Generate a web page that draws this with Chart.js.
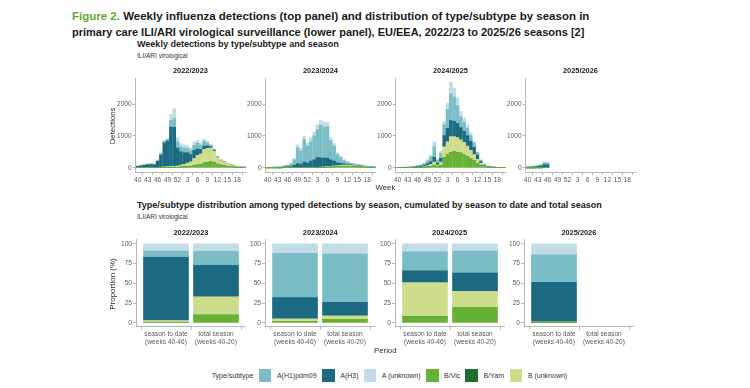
<!DOCTYPE html>
<html>
<head>
<meta charset="utf-8">
<script src="https://cdn.jsdelivr.net/npm/chart.js"></script>
<style>
html,body{margin:0;padding:0;}
body{width:750px;height:388px;position:relative;overflow:hidden;background:#fff;font-family:'Liberation Sans',Arial,sans-serif;}
.t{position:absolute;white-space:nowrap;}
canvas{position:absolute;}
.sw{position:absolute;}
</style>
</head>
<body>
<script>
// ================= DATA =================
const WEEKS = ['40','41','42','43','44','45','46','47','48','49','50','51','52','1','2','3','4','5','6','7','8','9','10','11','12','13','14','15','16','17','18','19','20'];
const WEEK_TICKS = [0,3,6,9,12,15,18,21,24,27,30];
const SEASONS = ['2022/2023','2023/2024','2024/2025','2025/2026'];
const PERIODS = [['season to date','(weeks 40-46)'],['total season','(weeks 40-20)']];
const DET_TICKS = [0,1000,2000];
const PCT_TICKS = [0,25,50,75,100];
const SERIES_NAMES = ['B/Vic','B/Yam','B (unknown)','A(H3)','A(H1)pdm09','A (unknown)']; // stack order, bottom to top
const LEGEND_ORDER = ['A(H1)pdm09','A(H3)','A (unknown)','B/Vic','B/Yam','B (unknown)'];

// weekly detections 2022/2023
const bvic_2223 = [2,2,3,3,3,3,5,8,10,12,15,15,20,25,30,40,50,70,90,110,150,170,190,170,120,90,70,50,40,25,15,10,8];
const byam_2223 = [0,0,0,0,0,0,0,0,0,0,0,0,0,0,0,0,0,0,0,0,0,0,0,0,0,0,0,0,0,0,0,0,0];
const bunk_2223 = [3,3,4,5,5,5,10,15,20,25,30,30,40,60,80,110,140,230,300,330,430,440,430,350,200,140,110,85,60,38,25,15,12];
const h3_2223   = [45,55,75,90,95,90,190,380,750,800,1235,1225,560,420,360,320,230,250,200,130,100,70,40,20,10,5,5,3,2,2,1,1,1];
const h1_2223   = [5,8,12,12,12,12,25,40,50,50,200,280,200,150,150,140,120,160,190,140,150,90,50,35,20,10,5,5,3,2,2,2,2];
const aunk_2223 = [10,12,16,20,20,15,20,37,40,43,200,300,130,105,100,90,80,90,90,70,70,60,30,25,20,15,10,7,5,3,2,2,2];

// weekly detections 2023/2024
const bvic_2324 = [1,1,1,1,1,2,2,3,3,5,5,5,5,8,10,10,12,15,20,25,30,35,40,45,45,45,40,35,30,25,20,15,12];
const byam_2324 = [0,0,0,0,0,0,0,0,0,0,0,0,0,0,0,0,0,0,0,0,0,0,0,0,0,0,0,0,0,0,0,0,0];
const bunk_2324 = [1,1,1,2,2,2,3,3,4,5,5,5,5,7,10,10,12,15,20,25,30,35,40,40,40,35,30,30,25,20,15,12,10];
const h3_2324   = [5,6,8,10,12,18,25,35,70,120,110,170,140,200,230,300,290,280,270,200,150,90,60,40,25,15,12,10,8,5,5,5,3];
const h1_2324   = [8,10,12,17,23,33,50,79,173,490,410,700,530,605,750,880,1030,970,980,600,470,260,180,105,70,50,38,28,20,15,10,8,6];
const aunk_2324 = [5,7,8,10,12,15,20,30,50,100,90,120,100,130,130,150,156,150,140,100,80,50,40,30,20,15,10,7,7,5,5,5,4];

// weekly detections 2024/2025
const bvic_2425 = [2,2,3,3,4,5,8,10,20,30,50,80,40,80,330,420,480,500,480,460,400,350,280,220,140,70,35,20,12,10,7,5,4];
const byam_2425 = [0,0,0,0,0,0,0,0,0,0,0,0,0,0,0,0,0,0,0,0,0,0,0,0,0,0,0,0,0,0,0,0,0];
const bunk_2425 = [2,2,3,3,4,5,7,10,20,40,60,100,50,100,330,400,500,480,470,420,400,330,270,200,130,70,30,15,10,8,5,4,2];
const h3_2425   = [5,5,6,8,10,15,20,25,40,60,80,150,60,120,350,420,500,480,450,380,350,330,280,220,130,60,25,12,8,5,3,2,2];
const h1_2425   = [8,8,10,12,16,20,30,40,50,90,150,330,90,150,340,600,850,760,550,340,280,230,180,130,80,35,17,8,6,4,3,2,1];
const aunk_2425 = [3,3,3,4,6,5,10,15,20,30,60,160,30,70,100,190,360,280,240,170,130,110,80,60,30,15,8,5,4,3,2,2,1];

// weekly detections 2025/2026 (weeks 40-46 reported so far)
const bvic_2526 = [1,1,1,1,1,2,2];
const byam_2526 = [0,0,0,0,0,0,0];
const bunk_2526 = [0,0,0,1,1,1,1];
const h3_2526   = [18,22,28,38,55,95,90];
const h1_2526   = [14,18,21,27,36,62,60];
const aunk_2526 = [7,9,10,13,17,30,27];

// share (%) of typed detections: [season to date, total season]
const share_2223_bvic = [0.5,10],  share_2223_byam = [0,0], share_2223_bunk = [2.5,23],  share_2223_h3 = [80,40], share_2223_h1 = [8,17.5], share_2223_aunk = [9,9.5];
const share_2324_bvic = [2,4.5],   share_2324_byam = [0,0], share_2324_bunk = [3,4.5],   share_2324_h3 = [27,17], share_2324_h1 = [56,61],  share_2324_aunk = [12,13];
const share_2425_bvic = [8,19.5],  share_2425_byam = [0,0], share_2425_bunk = [43,20.5], share_2425_h3 = [15,23], share_2425_h1 = [24,28],  share_2425_aunk = [10,9];
const share_2526_bvic = [0.3,null],share_2526_byam = [0,null], share_2526_bunk = [0.9,null], share_2526_h3 = [50,null], share_2526_h1 = [35,null], share_2526_aunk = [13.8,null];

// ================= STYLE =================
const FONT = "'Liberation Sans', Arial, sans-serif";
const COLORS = {'B/Vic':'#67b234','B/Yam':'#1e6e32','B (unknown)':'#cddd8c','A(H3)':'#1c6a82','A(H1)pdm09':'#7bbdc4','A (unknown)':'#c2dbe7'};
const AX = '#9a9a9a';
const TC = '#5a5a5a';

const WEEKLY = [
  [bvic_2223,byam_2223,bunk_2223,h3_2223,h1_2223,aunk_2223],
  [bvic_2324,byam_2324,bunk_2324,h3_2324,h1_2324,aunk_2324],
  [bvic_2425,byam_2425,bunk_2425,h3_2425,h1_2425,aunk_2425],
  [bvic_2526,byam_2526,bunk_2526,h3_2526,h1_2526,aunk_2526]
];
const SHARES = [
  [share_2223_bvic,share_2223_byam,share_2223_bunk,share_2223_h3,share_2223_h1,share_2223_aunk],
  [share_2324_bvic,share_2324_byam,share_2324_bunk,share_2324_h3,share_2324_h1,share_2324_aunk],
  [share_2425_bvic,share_2425_byam,share_2425_bunk,share_2425_h3,share_2425_h1,share_2425_aunk],
  [share_2526_bvic,share_2526_byam,share_2526_bunk,share_2526_h3,share_2526_h1,share_2526_aunk]
];

// ================= HELPERS =================
function txt(html, x, yc, size, o) {
  o = o || {};
  const d = document.createElement('div');
  d.className = 't';
  d.innerHTML = html;
  d.style.fontFamily = o.family || FONT;
  d.style.fontWeight = o.bold ? 'bold' : 'normal';
  d.style.color = o.color || '#1a1a1a';
  document.body.appendChild(d);
  function setSize(s){ d.style.fontSize = s+'px'; d.style.lineHeight = s+'px'; d.style.top = (yc - s/2)+'px'; }
  setSize(size);
  let w = d.getBoundingClientRect().width;
  if (o.fitW) { size = size * o.fitW / w; setSize(size); }
  w = d.offsetWidth;
  let left = x;
  if (o.align === 'center') left = x - w/2;
  if (o.align === 'right') left = x - w;
  d.style.left = left + 'px';
  if (o.rotate) { d.style.transformOrigin = 'center center'; d.style.transform = 'rotate(-90deg)'; }
  return d;
}

function axisStyle() {
  return {
    grid: {display:true, drawOnChartArea:false, drawTicks:true, tickLength:3, color:AX, lineWidth:0.7},
    border: {display:true, color:AX, width:0.7}
  };
}

function makeChart(cfg, L, T, W, H) {
  const c = document.createElement('canvas');
  c.width = W + 60; c.height = H + 40;
  c.style.width = c.width + 'px'; c.style.height = c.height + 'px';
  c.style.left = '0px'; c.style.top = '0px';
  document.body.appendChild(c);
  const ch = new Chart(c, cfg);
  let a = ch.chartArea;
  const nw = Math.round(c.width + W - (a.right - a.left));
  const nh = Math.round(c.height + H - (a.bottom - a.top));
  ch.resize(nw, nh);
  a = ch.chartArea;
  c.style.left = Math.round(L - a.left) + 'px';
  c.style.top = Math.round(T - a.top) + 'px';
  return ch;
}

const baseOpts = {
  responsive:false, maintainAspectRatio:false, animation:false, events:[],
  layout:{padding:0},
  plugins:{legend:{display:false}, tooltip:{enabled:false}, title:{display:false}}
};

// ================= TITLES =================
txt('<span style="color:#5fa82a">Figure 2.</span> Weekly influenza detections (top panel) and distribution of type/subtype by season in', 72, 16.5, 12, {bold:true, fitW:518});
txt('primary care ILI/ARI virological surveillance (lower panel), EU/EEA, 2022/23 to 2025/26 seasons [2]', 72, 32.5, 12, {bold:true, fitW:513});
txt('Weekly detections by type/subtype and season', 137, 44.5, 9, {bold:true, fitW:202, color:'#1a1a1a'});
txt('ILI/ARI virological', 137, 56, 6.5, {color:'#333'});
txt('Type/subtype distribution among typed detections by season, cumulated by season to date and total season', 137, 205.5, 9, {bold:true, fitW:465, color:'#1a1a1a'});
txt('ILI/ARI virological', 137, 217.5, 6.5, {color:'#333'});

// ================= TOP PANELS =================
const TOP_T = 79, TOP_H = 93.3, TOP_W = 110;
SEASONS.forEach((season, k) => {
  const L = 135.5 + 130*k;
  const datasets = SERIES_NAMES.map((name, j) => ({
    label: name,
    data: WEEKLY[k][j].map((v,i) => ({x:i, y:v})),
    backgroundColor: COLORS[name],
    borderWidth: 0,
    barThickness: 2.9
  }));
  makeChart({
    type:'bar',
    data:{datasets},
    options:Object.assign({}, baseOpts, {
      scales:{
        x:Object.assign(axisStyle(), {
          type:'linear', min:-0.6, max:32.6, bounds:'data', offset:false, stacked:true,
          afterBuildTicks:(s)=>{ s.ticks = WEEK_TICKS.map(v=>({value:v})); },
          ticks:{callback:(v)=>WEEKS[v], font:{family:FONT,size:6.6}, color:TC, padding:1, maxRotation:0, autoSkip:false}
        }),
        y:Object.assign(axisStyle(), {
          type:'linear', min:-133, max:2790, bounds:'data', stacked:true,
          afterBuildTicks:(s)=>{ s.ticks = DET_TICKS.map(v=>({value:v})); },
          ticks:{callback:(v)=>String(v), font:{family:FONT,size:6.6}, color:TC, padding:1}
        })
      }
    })
  }, L, TOP_T, TOP_W, TOP_H);
  txt(season, L + TOP_W/2, 70.5, 7.4, {bold:true, align:'center'});
});
txt('Detections', 112, 125.5, 7.8, {align:'center', rotate:true, color:'#2a2a2a'});
txt('Week', 385.5, 188, 7.8, {align:'center', color:'#2a2a2a'});

// ================= BOTTOM PANELS =================
const BOT_T = 240.4, BOT_H = 86.5, BOT_W = 110;
SEASONS.forEach((season, k) => {
  const L = 136 + 129.3*k;
  const datasets = SERIES_NAMES.map((name, j) => ({
    label: name,
    data: SHARES[k][j].map((v,i) => v == null ? null : ({x:i, y:v})).filter(p => p),
    backgroundColor: COLORS[name],
    borderWidth: 0,
    barThickness: 45
  }));
  makeChart({
    type:'bar',
    data:{datasets},
    options:Object.assign({}, baseOpts, {
      scales:{
        x:Object.assign(axisStyle(), {
          type:'linear', min:-0.6, max:1.6, bounds:'data', offset:false, stacked:true,
          afterBuildTicks:(s)=>{ s.ticks = [0,1].map(v=>({value:v})); },
          ticks:{callback:(v)=>PERIODS[v], font:{family:FONT,size:6.6, lineHeight:1.15}, color:TC, padding:1, maxRotation:0, autoSkip:false}
        }),
        y:Object.assign(axisStyle(), {
          type:'linear', min:-5, max:105, bounds:'data', stacked:true,
          afterBuildTicks:(s)=>{ s.ticks = PCT_TICKS.map(v=>({value:v})); },
          ticks:{callback:(v)=>String(v), font:{family:FONT,size:6.6}, color:TC, padding:1}
        })
      }
    })
  }, L, BOT_T, BOT_W, BOT_H);
  txt(season, L + BOT_W/2, 232.7, 7.4, {bold:true, align:'center'});
});
txt('Proportion (%)', 113, 283.5, 8, {align:'center', rotate:true, color:'#2a2a2a'});
txt('Period', 385.5, 351, 7.8, {align:'center', color:'#2a2a2a'});

// ================= LEGEND =================
(function(){
  const yc = 375.5;
  let x = 211.7;
  const head = txt('Type/subtype', x, yc, 7, {color:'#333'});
  x += head.offsetWidth + 5;
  LEGEND_ORDER.forEach(name => {
    const s = document.createElement('div');
    s.className = 'sw';
    s.style.left = x + 'px'; s.style.top = (yc - 6.3) + 'px';
    s.style.width = '12.7px'; s.style.height = '12.7px';
    s.style.background = COLORS[name];
    document.body.appendChild(s);
    x += 12.7 + 5.5;
    const t = txt(name, x, yc, 7, {color:'#333'});
    x += t.offsetWidth + 5.2;
  });
})();
</script>
</body>
</html>
